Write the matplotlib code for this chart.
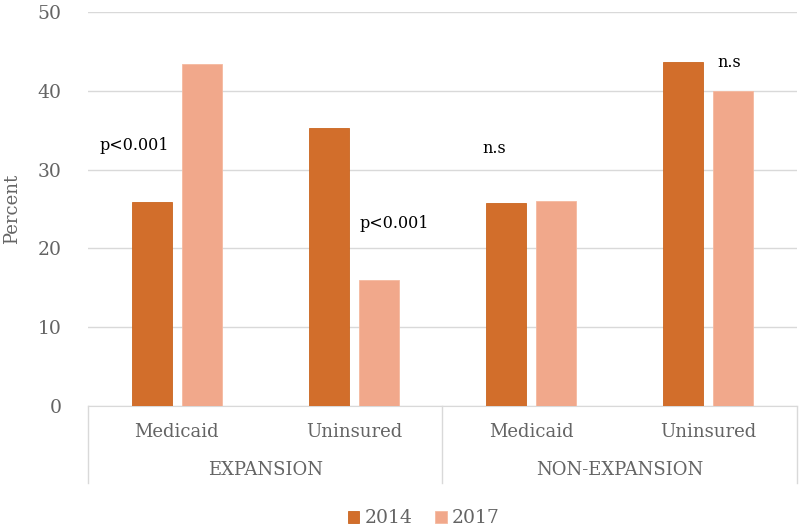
import numpy as np
import matplotlib.pyplot as plt
from matplotlib.transforms import blended_transform_factory

plt.rcParams['font.family'] = ['DejaVu Serif']

categories = ['Medicaid', 'Uninsured', 'Medicaid', 'Uninsured']
groups = ['EXPANSION', 'NON-EXPANSION']
vals_2014 = [25.9, 35.3, 25.8, 43.7]
vals_2017 = [43.4, 16.0, 26.0, 40.0]
notes = ['p<0.001', 'p<0.001', 'n.s', 'n.s']
note_x = [-0.24, 1.23, 1.79, 3.12]
note_y = [33.0, 23.2, 32.7, 43.6]

c2014 = '#D26E2B'
c2017 = '#F1A88B'
grey = '#646464'

fig = plt.figure(figsize=(8, 5.31), dpi=100)
ax = fig.add_axes([0.11, 0.2354, 0.886, 0.742])

x = np.arange(len(categories))
w = 0.226
ax.bar(x - 0.141, vals_2014, w, color=c2014, edgecolor='#C9651F', linewidth=0.6, label='2014', zorder=3)
ax.bar(x + 0.141, vals_2017, w, color=c2017, edgecolor='#F5B9A0', linewidth=0.6, label='2017', zorder=3)

for t, tx, ty in zip(notes, note_x, note_y):
    ax.text(tx, ty, t, fontsize=11.5, color='black', ha='center', va='center')

ax.set_xlim(-0.5, 3.5)
ax.set_ylim(0, 50)
ax.set_yticks(range(0, 51, 10))
ax.yaxis.grid(True, color='#D9D9D9', linewidth=1, zorder=0)
ax.set_axisbelow(True)
for s in ['top', 'right', 'left']:
    ax.spines[s].set_visible(False)
ax.spines['bottom'].set_color('#D9D9D9')
ax.tick_params(axis='y', length=0, labelsize=13.5, labelcolor=grey, pad=19)
ax.tick_params(axis='x', length=0, labelbottom=False)
ax.set_ylabel('Percent', fontsize=13, color=grey, labelpad=12)

# two-level category axis
tr = blended_transform_factory(ax.transData, ax.transAxes)
for xi, lab in zip(x, categories):
    ax.text(xi, -0.066, lab, transform=tr, ha='center', va='center', fontsize=13, color=grey)
for gi, g in enumerate(groups):
    ax.text(gi * 2 + 0.5, -0.162, g, transform=tr, ha='center', va='center', fontsize=13, color=grey)
for sx in [-0.5, 1.5, 3.5]:
    ax.plot([sx, sx], [0, -0.195], transform=tr, color='#D9D9D9', linewidth=1, clip_on=False)

fig.legend(loc='center', bbox_to_anchor=(0.53, 0.024), ncol=2, frameon=False,
           fontsize=13.5, handlelength=0.6, handleheight=0.6, handletextpad=0.3,
           columnspacing=1.2, labelcolor=grey)

plt.savefig('out.png')
